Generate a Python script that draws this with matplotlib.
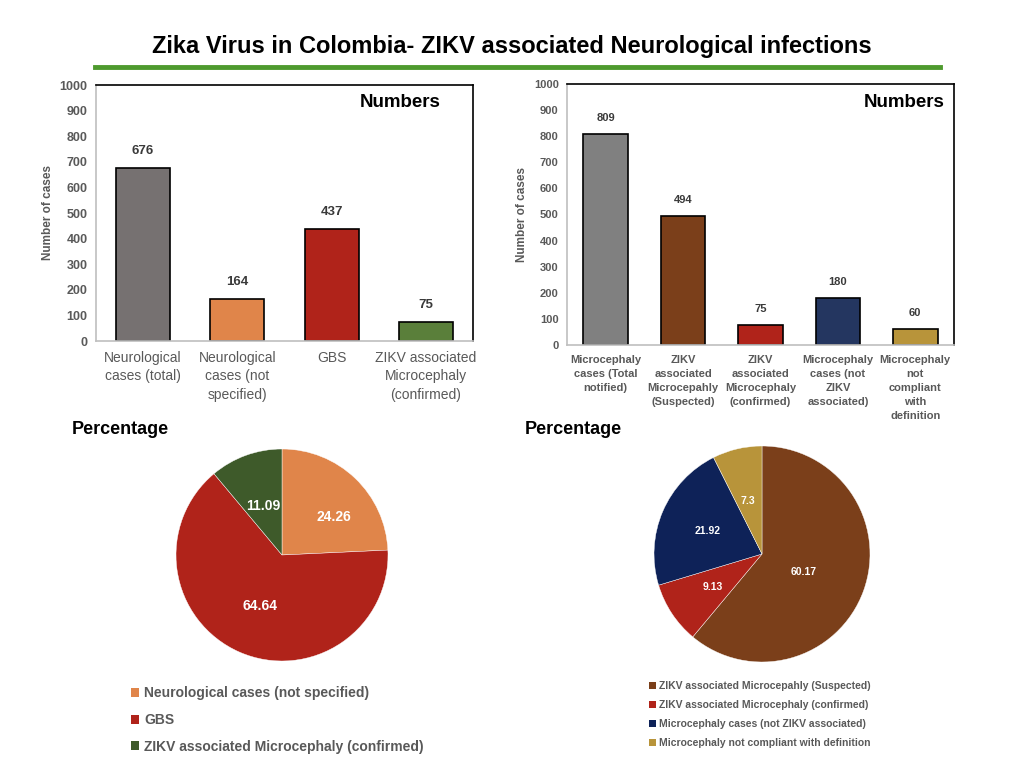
import matplotlib
matplotlib.use("Agg")
import matplotlib.pyplot as plt
from matplotlib.patches import Patch

# ---------------- data ----------------
title = "Zika Virus in Colombia- ZIKV associated Neurological infections"

left_categories = ["Neurological\ncases (total)", "Neurological\ncases (not\nspecified)", "GBS",
                   "ZIKV associated\nMicrocephaly\n(confirmed)"]
left_values = [676, 164, 437, 75]
left_colors = ["#767171", "#E0854A", "#B0231A", "#5A7F3A"]

right_categories = ["Microcephaly\ncases (Total\nnotified)", "ZIKV\nassociated\nMicrocepahly\n(Suspected)",
                    "ZIKV\nassociated\nMicrocephaly\n(confirmed)", "Microcephaly\ncases (not\nZIKV\nassociated)",
                    "Microcephaly\nnot\ncompliant\nwith\ndefinition"]
right_values = [809, 494, 75, 180, 60]
right_colors = ["#808080", "#7B3F1A", "#B0231A", "#243660", "#B8943A"]

left_pie_labels = ["Neurological cases (not specified)", "GBS", "ZIKV associated Microcephaly (confirmed)"]
left_pie_values = [24.26, 64.64, 11.09]
left_pie_colors = ["#E0854A", "#B0231A", "#3E5A2A"]

right_pie_labels = ["ZIKV associated Microcepahly (Suspected)", "ZIKV associated Microcephaly (confirmed)",
                    "Microcephaly cases (not ZIKV associated)", "Microcephaly not compliant with definition"]
right_pie_values = [60.17, 9.13, 21.92, 7.3]
right_pie_colors = ["#7B3F1A", "#B0231A", "#0E2258", "#B8943A"]

y_ticks = [0, 100, 200, 300, 400, 500, 600, 700, 800, 900, 1000]

plt.rcParams['font.family'] = ['Liberation Sans', 'DejaVu Sans']

W, H = 1024, 768
fig = plt.figure(figsize=(10.24, 7.68), dpi=100)
fig.patch.set_facecolor("white")


def fx(x):
    return x / W


def fy(y):
    return 1 - y / H


# title + green rule
fig.text(fx(512), fy(46), title, ha="center", va="center", fontsize=17, fontweight="bold", color="black")
fig.add_artist(plt.Line2D([fx(95), fx(940)], [fy(67), fy(67)], color="#4E9A2E", lw=3.5))


def bar_chart(rect, cats, vals, cols, tick_fs, cat_fs, cat_weight, cat_ls, val_fs, numbers_x):
    ax = fig.add_axes(rect)
    x = list(range(len(vals)))
    ax.bar(x, vals, width=0.575, color=cols, edgecolor="black", linewidth=1.2, zorder=2)
    ax.set_xlim(-0.5, len(vals) - 0.5)
    ax.set_ylim(0, 1000)
    ax.set_yticks(y_ticks)
    ax.set_xticks(x)
    ax.set_xticklabels(cats, fontsize=cat_fs, color="#595959", fontweight=cat_weight, linespacing=cat_ls)
    for lab in ax.get_yticklabels():
        lab.set_fontsize(tick_fs)
        lab.set_color("#595959")
        lab.set_fontweight("bold")
    ax.tick_params(axis="both", length=0)
    ax.tick_params(axis="x", pad=7)
    ax.tick_params(axis="y", pad=6)
    for s in ["top", "right"]:
        ax.spines[s].set_color("black")
        ax.spines[s].set_linewidth(1.2)
    for s in ["left", "bottom"]:
        ax.spines[s].set_color("#BFBFBF")
        ax.spines[s].set_linewidth(1.2)
    for xi, v in zip(x, vals):
        ax.annotate(str(v), (xi, v), xytext=(0, 8), textcoords="offset points", ha="center", va="bottom",
                    fontsize=val_fs, fontweight="bold", color="#3A3A3A")
    ax.set_ylabel("Number of cases", fontsize=8.5, fontweight="bold", color="#595959", labelpad=4)
    ax.text(numbers_x, 0.93, "Numbers", transform=ax.transAxes, ha="center", va="center",
            fontsize=13.5, fontweight="bold", color="black")
    return ax


bar_chart([fx(96), fy(341), fx(473) - fx(96), fy(85) - fy(341)], left_categories, left_values, left_colors,
          tick_fs=9, cat_fs=10, cat_weight="normal", cat_ls=1.4, val_fs=9.5, numbers_x=(400 - 96) / 377)
bar_chart([fx(567), fy(345), fx(954) - fx(567), fy(84) - fy(345)], right_categories, right_values, right_colors,
          tick_fs=8, cat_fs=8, cat_weight="bold", cat_ls=1.5, val_fs=8, numbers_x=(904 - 567) / 387)

# Percentage headers
fig.text(fx(72), fy(430), "Percentage", ha="left", va="center", fontsize=13, fontweight="bold")
fig.text(fx(525), fy(430), "Percentage", ha="left", va="center", fontsize=13, fontweight="bold")


def pie_chart(cx, cy, r, vals, cols, lab_fs, dist):
    ax = fig.add_axes([fx(cx - r), fy(cy + r), 2 * r / W, 2 * r / H])
    wedges, texts = ax.pie(vals, colors=cols, startangle=90, counterclock=False,
                           labels=[str(v) for v in vals],
                           labeldistance=dist, radius=1,
                           wedgeprops=dict(linewidth=0.3, edgecolor="white"),
                           textprops=dict(color="white", fontsize=lab_fs, fontweight="bold"))
    for t in texts:
        t.set_ha("center")
        t.set_va("center")
    ax.set_xlim(-1, 1)
    ax.set_ylim(-1, 1)
    return ax, wedges, texts


axl, wl, tl = pie_chart(282, 555, 106, left_pie_values, left_pie_colors, 10, 0.58)
# nudge labels toward the reference's placement
x0, y0 = tl[0].get_position()
tl[0].set_position((x0 * 1.22, y0 * 0.85))
x0, y0 = tl[2].get_position()
tl[2].set_position((x0 * 0.9, y0 * 0.85))
x0, y0 = tl[1].get_position()
tl[1].set_position((x0 * 0.9, y0 * 0.9))

axr, wr, tr = pie_chart(762, 554, 108, right_pie_values, right_pie_colors, 7.5, 0.55)
x0, y0 = tr[0].get_position()
tr[0].set_position((x0 * 0.75, y0 * 0.9))
x0, y0 = tr[3].get_position()
tr[3].set_position((x0, y0 * 0.92))

# legends
handles_l = [Patch(facecolor=c, edgecolor="none") for c in left_pie_colors]
fig.legend(handles_l, left_pie_labels, loc="upper left", bbox_to_anchor=(fx(118), fy(674)),
           frameon=False, handlelength=0.6, handleheight=0.6, handletextpad=0.4,
           labelspacing=0.9, labelcolor="#595959", prop=dict(weight="bold", size=10))

handles_r = [Patch(facecolor=c, edgecolor="none") for c in right_pie_colors]
fig.legend(handles_r, right_pie_labels, loc="upper left", bbox_to_anchor=(fx(640), fy(672)),
           frameon=False, handlelength=0.6, handleheight=0.6, handletextpad=0.3,
           labelspacing=0.85, labelcolor="#595959", prop=dict(weight="bold", size=7.5))

fig.savefig("out.png", dpi=100)
